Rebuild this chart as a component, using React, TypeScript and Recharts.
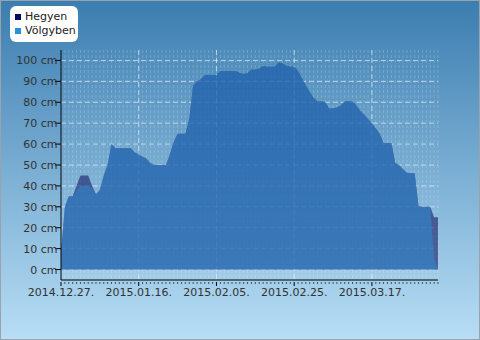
import React from "react"
import { AreaChart, Area, XAxis, YAxis, CartesianGrid } from "recharts"

// snow depth, daily from 2014.12.27.
const days = Array.from({ length: 98 }, (_, i) => i)
const volgyben = [
  8, 30, 35, 35, 38, 40, 40, 40, 39, 36,
  38, 45, 50, 60, 58, 58, 58, 58, 58, 56,
  55, 54, 53, 51, 50, 50, 50, 50, 55, 61,
  65, 65, 65, 72, 88, 90, 91, 93, 93, 93,
  93, 95, 95, 95, 95, 95, 94, 93.5, 94, 95.5,
  95.5, 96, 97.3, 97, 97, 97, 99, 98.5, 97.5, 97,
  97, 95, 91.5, 88, 85, 82, 80.5, 80.5, 80, 77,
  77, 77.5, 78.5, 80.5, 80.5, 80.5, 78.5, 76, 74, 72,
  70, 67.5, 65, 60.5, 60.5, 60.5, 51, 50, 48, 46.3,
  46, 46, 30.3, 30, 30, 30, 5, 0,
]
const hegyen = [
  8, 30, 35, 35, 40, 45, 45, 45, 40, 36,
  38, 45, 50, 60, 58, 58, 58, 58, 58, 56,
  55, 54, 53, 51, 50, 50, 50, 50, 55, 61,
  65, 65, 65, 72, 88, 90, 91, 93, 93, 93,
  93, 95, 95, 95, 95, 95, 94, 93.5, 94, 95.5,
  95.5, 96, 97.3, 97, 97, 97, 99, 98.5, 97.5, 97,
  97, 95, 91.5, 88, 85, 82, 80.5, 80.5, 80, 77,
  77, 77.5, 78.5, 80.5, 80.5, 80.5, 78.5, 76, 74, 72,
  70, 67.5, 65, 60.5, 60.5, 60.5, 51, 50, 48, 46.3,
  46, 46, 30.3, 30, 30, 30, 25, 25,
]
const yTicks = [0, 10, 20, 30, 40, 50, 60, 70, 80, 90, 100]
const majorDays = [0, 20, 40, 60, 80]
const startDate = new Date(2014, 11, 27)

const data = days.map((d, i) => ({ day: d, hegyen: hegyen[i], volgyben: volgyben[i] }))

const fmtDate = (d: number) => {
  const t = new Date(startDate.getTime())
  t.setDate(t.getDate() + d)
  const mm = String(t.getMonth() + 1).padStart(2, "0")
  const dd = String(t.getDate()).padStart(2, "0")
  return `${t.getFullYear()}.${mm}.${dd}.`
}

const font = "'DejaVu Sans', sans-serif"

const YTick = (p: any) => {
  const { x, y, payload } = p
  return (
    <g>
      <line x1={x - 4} x2={x + 2} y1={y} y2={y} stroke="#000" />
      <text x={x - 1.5} y={y} dy={4} textAnchor="end" fontSize={11} fill="#333" fontFamily={font}>
        {payload.value} cm
      </text>
    </g>
  )
}

const XTick = (p: any) => {
  const { x, y, payload } = p
  const major = majorDays.includes(payload.value)
  return (
    <g>
      <line x1={x} x2={x} y1={y} y2={y + (major ? 4 : 2)} stroke="#000" strokeWidth={major ? 1 : 0.6} />
      {major && (
        <text x={x} y={y} dy={14} textAnchor="middle" fontSize={11} fill="#333" fontFamily={font}>
          {fmtDate(payload.value)}
        </text>
      )}
    </g>
  )
}

export default function App() {
  return (
    <div style={{ position: "fixed", left: 0, top: 0, width: 480, height: 340, background: "linear-gradient(#3b7db0, #b8def5)" }}>
      <div style={{ position: "absolute", inset: 0, border: "1px solid #9aa3ab", boxSizing: "border-box" }} />
      <AreaChart width={480} height={340} data={data} margin={{ top: 50, right: 42, left: 6, bottom: 30 }} style={{ position: "absolute", left: 0, top: 0 }}>
        <CartesianGrid horizontal={false} verticalValues={days} stroke="rgba(255,255,255,0.2)" strokeDasharray="3 2" />
        <CartesianGrid horizontalValues={yTicks} verticalValues={majorDays.slice(1)} stroke="rgba(225,240,255,0.7)" strokeDasharray="5 3" />
        <XAxis dataKey="day" type="number" domain={[0, 97]} ticks={days} interval={0} tickSize={0} tickLine={false} tick={<XTick />} axisLine={{ stroke: "#000" }} height={30} />
        <YAxis type="number" domain={[-5, 105]} ticks={yTicks} interval={0} tickSize={0} tickLine={false} tick={<YTick />} axisLine={{ stroke: "#000" }} width={55} />
        <Area type="linear" dataKey="hegyen" baseValue={0} fill="#0b0b5a" fillOpacity={0.55} stroke="none" isAnimationActive={false} />
        <Area type="linear" dataKey="volgyben" baseValue={0} fill="#2a90d8" fillOpacity={0.5} stroke="none" isAnimationActive={false} />
      </AreaChart>
      <div style={{ position: "absolute", left: 10, top: 6, width: 68, height: 36, background: "#fff", borderRadius: 6, fontFamily: font, fontSize: 11, color: "#222" }}>
        {[{ name: "Hegyen", color: "#0b0b5a" }, { name: "Völgyben", color: "#2a90d8" }].map((it, i) => (
          <div key={it.name} style={{ position: "absolute", left: 5, top: 4 + i * 14, height: 13, display: "flex", alignItems: "center", whiteSpace: "nowrap" }}>
            <span style={{ display: "inline-block", width: 6, height: 6, background: it.color, marginRight: 4 }} />
            {it.name}
          </div>
        ))}
      </div>
    </div>
  )
}
